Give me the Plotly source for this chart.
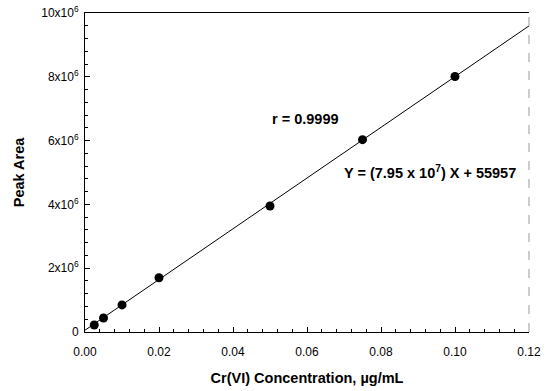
import plotly.graph_objects as go

# Calibration standards: Cr(VI) concentration (ug/mL) and measured peak area
conc = [0.0025, 0.005, 0.01, 0.02, 0.05, 0.075, 0.10]
peak_area = [0.22e6, 0.44e6, 0.85e6, 1.70e6, 3.95e6, 6.03e6, 8.01e6]

# Linear regression result
slope = 7.95e7
intercept = 55957
fit_x = [0.0, 0.12]
fit_y = [slope * x + intercept for x in fit_x]

x_ticks = [0.0, 0.02, 0.04, 0.06, 0.08, 0.10, 0.12]
x_ticktext = ["0.00", "0.02", "0.04", "0.06", "0.08", "0.10", "0.12"]
y_ticks = [0, 2e6, 4e6, 6e6, 8e6, 10e6]
y_ticktext = ["0", "2x10<sup>6</sup>", "4x10<sup>6</sup>", "6x10<sup>6</sup>",
              "8x10<sup>6</sup>", "10x10<sup>6</sup>"]

font = "Liberation Sans, Arial, sans-serif"

fig = go.Figure()
fig.add_trace(go.Scatter(x=fit_x, y=fit_y, mode="lines",
                         line=dict(color="black", width=1), showlegend=False))
fig.add_trace(go.Scatter(x=conc, y=peak_area, mode="markers",
                         marker=dict(color="black", size=9), showlegend=False))

fig.update_xaxes(range=[0, 0.12], tickvals=x_ticks, ticktext=x_ticktext,
                 ticks="inside", ticklen=5, tickcolor="black",
                 minor=dict(dtick=0.004, ticks="inside", ticklen=3, tickcolor="black"),
                 showline=True, linecolor="black", linewidth=1, mirror=True,
                 showgrid=False, zeroline=False, ticklabelstandoff=9,
                 automargin=False,
                 tickfont=dict(family=font, size=12, color="black"),
                 title=dict(text="<b>Cr(VI) Concentration, µg/mL</b>",
                            font=dict(family=font, size=14.5, color="black"),
                            standoff=14))
fig.update_yaxes(range=[0, 10e6], tickvals=y_ticks, ticktext=y_ticktext,
                 ticks="inside", ticklen=5, tickcolor="black",
                 minor=dict(dtick=0.4e6, ticks="inside", ticklen=3, tickcolor="black"),
                 showline=True, linecolor="black", linewidth=1,
                 showgrid=False, zeroline=False, ticklabelstandoff=3,
                 automargin=False,
                 tickfont=dict(family=font, size=12, color="black"),
                 title=dict(text="<b>Peak Area</b>",
                            font=dict(family=font, size=14.5, color="black"),
                            standoff=13))

# Right-hand frame edge, drawn as a light dashed line
fig.add_shape(type="line", xref="paper", yref="paper", x0=1, x1=1, y0=0, y1=1,
              line=dict(color="#999999", width=1, dash="dash"))

fig.add_annotation(x=0.0597, y=6.68e6, text="<b>r = 0.9999</b>", showarrow=False,
                   font=dict(family=font, size=14.5, color="black"))
fig.add_annotation(x=0.0933, y=5.02e6,
                   text="<b>Y = (7.95 x 10<sup>7</sup>) X + 55957</b>",
                   showarrow=False, font=dict(family=font, size=14.5, color="black"))

fig.update_layout(width=547, height=391, plot_bgcolor="white", paper_bgcolor="white",
                  margin=dict(l=85, r=18, t=13, b=59))

fig.write_html("out.html")
